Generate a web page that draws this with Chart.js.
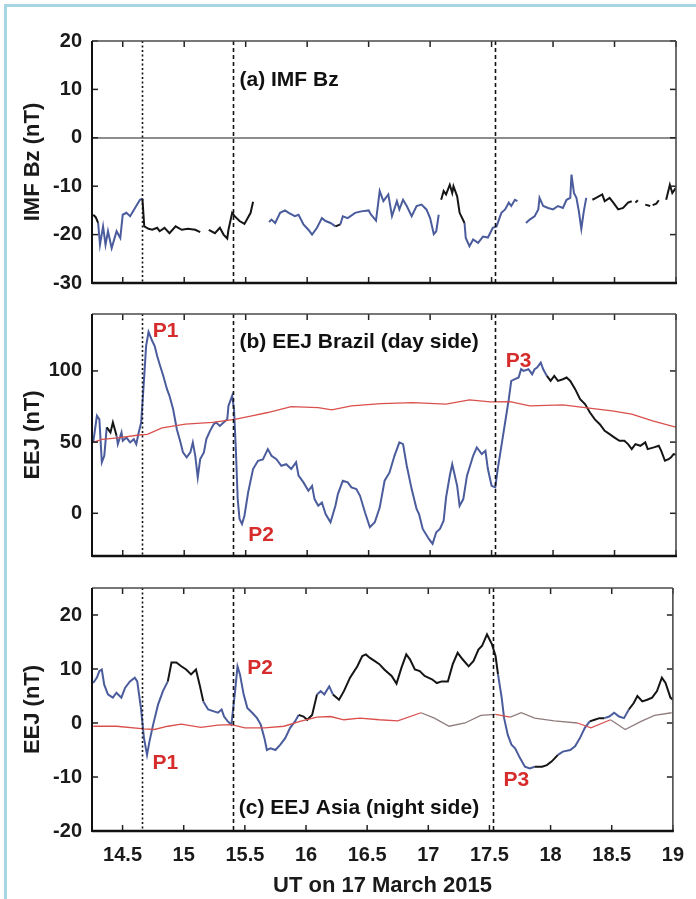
<!DOCTYPE html>
<html>
<head>
<meta charset="utf-8">
<script src="https://cdn.jsdelivr.net/npm/chart.js@4.4.1/dist/chart.umd.min.js"></script>
<style>
  html, body { margin: 0; padding: 0; background: #fff; }
  #page { position: relative; width: 696px; height: 899px; overflow: hidden; background: #fff; }
  #edge { position: absolute; left: 4px; top: 4px; right: -10px; bottom: -10px;
          border-top: 3px solid #a8d5e4; border-left: 3px solid #a8d5e4; }
  canvas { position: absolute; left: 0; top: 0; }
</style>
</head>
<body>
<div id="page">
  <div id="edge"></div>
  <canvas id="bz" width="696" height="899"></canvas>
  <canvas id="brazil" width="696" height="899"></canvas>
  <canvas id="asia" width="696" height="899"></canvas>
</div>
<script>
// ---- data (UT hours on 17 March 2015) ----
const xTicks = [14.5, 15, 15.5, 16, 16.5, 17, 17.5, 18, 18.5, 19];
const bzTicks = [-30, -20, -10, 0, 10, 20];
const brTicks = [0, 50, 100];
const asTicks = [-20, -10, 0, 10, 20];
const eventTimes = [14.66, 15.40, 17.53];

// (a) IMF Bz, null = data gap
const bzTime = [14.26, 14.28, 14.30, 14.315, 14.34, 14.36, 14.38, 14.41, 14.45, 14.48, 14.50, 14.53, 14.56, 14.60, 14.64, 14.66,
  14.675, 14.71, 14.74, 14.78, 14.80, 14.84, 14.88, 14.93, 14.98, 15.03, 15.09, 15.13, 15.165,
  15.20, 15.25, 15.29, 15.32, 15.35, 15.36, 15.39, 15.41, 15.45, 15.49, 15.54, 15.56, 15.62,
  15.69, 15.71, 15.74, 15.78, 15.82, 15.85, 15.90, 15.93, 15.97, 16.01, 16.04, 16.08, 16.12, 16.15, 16.19, 16.23, 16.27,
  16.29, 16.33, 16.39, 16.44, 16.50, 16.52, 16.56, 16.59, 16.62, 16.66, 16.69, 16.73, 16.75, 16.78, 16.81, 16.85, 16.89,
  16.93, 16.97, 17.00, 17.03, 17.05, 17.07, 17.08,
  17.09, 17.11, 17.13, 17.16, 17.18, 17.19, 17.22, 17.24, 17.28, 17.29, 17.32, 17.35, 17.39, 17.43, 17.47, 17.51, 17.54,
  17.58, 17.61, 17.64, 17.66, 17.69, 17.71, 17.745,
  17.78, 17.81, 17.85, 17.88, 17.89, 17.92, 17.96, 18.00, 18.04, 18.08, 18.11, 18.14, 18.15, 18.17, 18.19, 18.21, 18.23,
  18.25, 18.27, 18.295,
  18.32, 18.35, 18.40, 18.42, 18.46, 18.49, 18.53, 18.57, 18.61, 18.64, 18.655, 18.67, 18.69, 18.72, 18.75, 18.79, 18.80,
  18.81, 18.84, 18.86, 18.89, 18.92, 18.95, 18.97, 19.00];
const bzValue = [-15.9, -16.4, -17.6, -22.1, -18.3, -22.1, -19.3, -22.8, -19.3, -20.7, -15.9, -15.5, -16.2, -14.5, -12.8, -12.6,
  -18.3, -18.8, -19.0, -18.6, -19.3, -18.6, -19.7, -18.3, -19.0, -18.8, -19.0, -19.5, null,
  -19.0, -19.7, -18.6, -20.0, -20.8, -19.0, -15.5, -16.2, -17.2, -17.8, -15.5, -13.2, null,
  -17.4, -16.9, -17.6, -15.5, -15.0, -15.5, -16.2, -15.9, -17.9, -19.0, -20.0, -18.6, -16.6, -17.2, -17.6, -18.3, -17.9,
  -16.2, -16.6, -15.5, -15.2, -15.0, -15.9, -17.1, -11.0, -13.1, -11.7, -16.2, -13.1, -14.8, -12.8, -14.1, -16.2, -14.1,
  -13.8, -14.8, -16.6, -19.9, -19.3, -15.9, null,
  -12.8, -11.0, -11.7, -9.7, -11.4, -10.0, -12.1, -15.5, -17.6, -20.7, -22.4, -21.0, -21.7, -20.4, -20.6, -18.6, -18.3,
  -15.5, -14.8, -13.4, -14.1, -12.8, -13.1, null,
  -17.6, -16.9, -16.2, -14.8, -12.4, -14.1, -14.5, -14.8, -14.1, -14.5, -12.8, -12.4, -7.6, -11.4, -12.4, -15.2, -18.8,
  -15.2, -12.4, null,
  -12.8, -12.4, -11.7, -13.1, -12.4, -13.4, -14.8, -14.5, -13.4, -13.1, null, -13.4, -12.9, null, -13.8, -14.1, null,
  -13.9, -13.6, -12.9, null, -12.8, -9.7, -11.4, -10.3];

// (b) EEJ Brazil, day side
const brTime = [14.26, 14.29, 14.31, 14.33, 14.35, 14.37, 14.40, 14.42, 14.45, 14.46, 14.49, 14.50, 14.53, 14.56, 14.59, 14.61,
  14.63, 14.65, 14.675, 14.69, 14.71, 14.74, 14.76, 14.78, 14.80, 14.83, 14.86, 14.88, 14.91, 14.94, 14.97, 14.99, 15.02,
  15.05, 15.07, 15.09, 15.11, 15.13, 15.16, 15.18, 15.21, 15.24, 15.26, 15.29, 15.32, 15.35, 15.36, 15.39, 15.405, 15.42,
  15.435, 15.45, 15.47, 15.49, 15.52, 15.56, 15.60, 15.64, 15.68, 15.71, 15.75, 15.79, 15.83, 15.87, 15.91, 15.93, 15.97,
  16.01, 16.04, 16.06, 16.09, 16.12, 16.15, 16.19, 16.23, 16.25, 16.29, 16.33, 16.36, 16.40, 16.43, 16.47, 16.51, 16.55,
  16.59, 16.63, 16.67, 16.71, 16.75, 16.78, 16.81, 16.85, 16.89, 16.91, 16.94, 16.99, 17.02, 17.05, 17.08, 17.11, 17.13,
  17.16, 17.18, 17.22, 17.24, 17.27, 17.30, 17.35, 17.38, 17.42, 17.45, 17.47, 17.50, 17.53, 17.55, 17.58, 17.61, 17.64,
  17.66, 17.69, 17.72, 17.74, 17.76, 17.80, 17.83, 17.85, 17.87, 17.90, 17.92, 17.95, 17.98, 18.01, 18.04, 18.08, 18.11,
  18.14, 18.18, 18.22, 18.26, 18.30, 18.34, 18.38, 18.42, 18.46, 18.50, 18.54, 18.58, 18.61, 18.64, 18.67, 18.71, 18.75,
  18.77, 18.82, 18.86, 18.88, 18.91, 18.94, 18.96, 18.98, 19.00];
const brValue = [49.8, 68.5, 66, 35.8, 40.4, 60.3, 56.8, 63.8, 54.4, 48.6, 56.8, 50.9, 53.2, 49.8, 52.1, 48.6,
  56.8, 63.8, 96.5, 117.5, 127.5, 121, 117.5, 110.5, 104.7, 96.5, 87.2, 82.5, 73.1, 59.1, 49.8, 42.8, 39.3,
  42.8, 49.8, 40.4, 25.2, 38.1, 42.8, 52.1, 57.9, 62.6, 63.8, 61.4, 63.8, 66, 75.5, 82.5, 73.1, 45.1,
  10, -4, -7.5, -1.7, 14.7, 31.1, 36.9, 37.8, 45.1, 40.4, 38, 33.4, 34.5, 31.1, 35.8, 26.4, 21.7,
  15.8, 19.3, 10, 5.3, 7.6, -0.5, -6.3, 5.3, 13.5, 22.9, 21.7, 18.2, 17, 12.3, 0.7, -9.8, -6.3,
  4, 22.9, 28.7, 40.4, 49.8, 48.6, 33.4, 17, 3, -0.5, -11, -18, -21.5, -13.3, -11, -5.2, 11.2,
  26.4, 34.5, 19.3, 5.3, 10, 26.4, 40.4, 46.3, 41.6, 43.9, 31.1, 19.3, 18.2, 31.1, 47.4, 63.8, 80.2,
  93, 94.2, 95.4, 101.2, 100, 101.2, 97.7, 101.2, 102.4, 105.9, 101.2, 96.5, 93, 96.5, 93, 94.2, 95.4,
  93, 87.2, 80.2, 76.7, 70.8, 66, 62.6, 57.9, 55.6, 53.2, 50.9, 50.9, 48.6, 45.1, 48.6, 47.4, 49.8,
  45.1, 46.3, 47.4, 43.9, 36.9, 38, 39.3, 41.6, 41];
const brQuietTime = [14.26, 14.33, 14.46, 14.63, 14.70, 14.82, 15.01, 15.23, 15.41, 15.55, 15.68, 15.87, 16.09, 16.20,
  16.36, 16.60, 16.86, 17.13, 17.32, 17.49, 17.65, 17.81, 18.08, 18.26, 18.48, 18.64, 18.81, 18.96, 19.00];
const brQuietValue = [49.8, 52, 53, 55, 55.5, 60, 62.6, 63.8, 66, 68.5, 70.8, 75, 74.3, 72.7,
  75.5, 77, 77.8, 76.7, 79.7, 78.3, 78.5, 75.5, 76.2, 74.3, 72, 69.6, 65, 61.4, 60.5];

// (c) EEJ Asia, night side
const asTime = [14.26, 14.29, 14.31, 14.33, 14.35, 14.38, 14.42, 14.45, 14.49, 14.52, 14.56, 14.60, 14.62, 14.65, 14.675,
  14.70, 14.72, 14.75, 14.79, 14.83, 14.87, 14.90, 14.94, 14.98, 15.02, 15.06, 15.10, 15.13, 15.16, 15.20, 15.24, 15.28,
  15.31, 15.33, 15.36, 15.39, 15.42, 15.44, 15.46, 15.49, 15.52, 15.56, 15.60, 15.63, 15.66, 15.68, 15.71, 15.75, 15.79,
  15.83, 15.87, 15.91, 15.94, 15.98, 16.01, 16.05, 16.09, 16.12, 16.15, 16.19, 16.22, 16.27, 16.31, 16.36, 16.42, 16.46,
  16.49, 16.52, 16.56, 16.60, 16.64, 16.70, 16.74, 16.78, 16.82, 16.85, 16.89, 16.93, 16.97, 17.03, 17.07, 17.11, 17.16,
  17.20, 17.24, 17.28, 17.33, 17.37, 17.41, 17.44, 17.48, 17.52, 17.55, 17.57, 17.60, 17.62, 17.65, 17.68, 17.71, 17.75,
  17.79, 17.83, 17.87, 17.93, 17.97, 18.01, 18.06, 18.10, 18.16, 18.20, 18.24, 18.28, 18.32, 18.36, 18.40, 18.44, 18.48,
  18.52, 18.56, 18.60, 18.64, 18.68, 18.71, 18.75, 18.79, 18.83, 18.87, 18.91, 18.94, 18.98, 19.00];
const asValue = [7.4, 8.4, 9.6, 9.9, 7.1, 5.3, 4.7, 5.6, 4.7, 6.5, 7.7, 8.4, 7.7, 2.8, -2.8,
  -5.9, -3.4, -0.3, 3.4, 5.9, 7.7, 11.2, 11.2, 10.5, 9.9, 9.0, 9.9, 7.1, 4.0, 2.5, 2.2, 1.9,
  2.5, 1.2, 0.3, -0.3, 5.9, 10.5, 9.0, 5.3, 2.8, 1.9, 0.9, -0.3, -2.8, -5.0, -4.7, -5.0, -4.0,
  -2.8, -0.9, 0.3, 1.5, 1.2, 0.6, 1.5, 5.3, 5.9, 5.3, 6.8, 5.3, 4.3, 5.9, 8.4, 10.5, 12.4,
  12.7, 12.1, 11.5, 10.9, 9.9, 8.7, 7.3, 10.2, 12.7, 11.8, 9.9, 9.6, 8.7, 8.1, 7.4, 7.7, 7.7,
  10.9, 13.0, 11.8, 10.5, 11.5, 13.6, 14.3, 16.4, 14.6, 12.4, 9.0, 4.7, 0.9, -2.2, -4.0, -4.7, -6.5,
  -8.1, -8.4, -8.1, -8.1, -7.8, -7.1, -5.9, -5.3, -5.0, -4.3, -2.8, -0.9, 0.3, 0.6, 0.9, 0.9, 1.2,
  1.9, 1.2, 0.9, 2.5, 3.7, 5.0, 4.0, 4.3, 4.7, 5.9, 8.4, 7.4, 4.7, 4.3];
const asQuietTime = [14.26, 14.45, 14.675, 14.76, 14.87, 14.98, 15.14, 15.28, 15.39, 15.50, 15.66, 15.82, 15.95, 16.09,
  16.20, 16.31, 16.44, 16.60, 16.75, 16.94, 17.05, 17.17, 17.30, 17.43, 17.55, 17.67, 17.76, 17.87, 18.03, 18.22,
  18.33, 18.49, 18.61, 18.74, 18.85, 18.99];
const asQuietValue = [-0.6, -0.6, -1.1, -1.2, -0.6, -0.2, -0.8, -0.4, -0.3, -0.9, -0.9, -0.6, 0.3, 1.1,
  1.2, 0.6, 0.9, 0.6, 0.4, 1.9, 0.9, -0.6, 0, 1.4, 1.6, 1.1, 1.9, 0.9, 0.4, 0,
  -0.9, 0.6, -1.2, 0.3, 1.4, 1.9];

// ---- styling ----
const FONT = "'Liberation Sans', Arial, sans-serif";
const BLUE = '#4b5c9d';
const BLACK = '#151515';
const RED = '#d9504d';
const GREYRED = '#8f7d7d';
const LABEL_RED = '#d62c2c';

const toPoints = (xs, ys) => xs.map((x, i) => ({ x: x, y: ys[i] }));
const inRanges = (x, ranges) => ranges.some(r => x >= r[0] && x < r[1]);

const framePlugin = {
  id: 'frame',
  afterDatasetsDraw(chart, args, opts) {
    const { ctx, chartArea: a } = chart;
    const xs = chart.scales.x, ys = chart.scales.y;
    const line = (x1, y1, x2, y2) => { ctx.beginPath(); ctx.moveTo(x1, y1); ctx.lineTo(x2, y2); ctx.stroke(); };
    ctx.save();

    // event markers
    ctx.strokeStyle = '#111';
    ctx.lineWidth = 1.6;
    eventTimes.forEach((t, i) => {
      const px = Math.round(xs.getPixelForValue(t)) + 0.5;
      ctx.setLineDash(i === 0 ? [2, 2.5] : [4, 3]);
      line(px, a.top, px, a.bottom);
    });
    ctx.setLineDash([]);

    // inward tick marks
    ctx.strokeStyle = '#222';
    ctx.lineWidth = 1.5;
    xTicks.forEach(v => {
      const px = xs.getPixelForValue(v);
      line(px, a.top, px, a.top + 6);
      line(px, a.bottom, px, a.bottom - 6);
    });
    opts.yTicks.forEach(v => {
      const py = ys.getPixelForValue(v);
      line(a.left, py, a.left + 6, py);
      line(a.right, py, a.right - 6, py);
    });

    // box
    ctx.strokeStyle = '#4a4a4a';
    ctx.lineWidth = 1.3;
    line(a.left, a.top, a.right, a.top);
    ctx.lineWidth = 1.6;
    line(a.right, a.top, a.right, a.bottom);
    ctx.strokeStyle = '#111';
    ctx.lineWidth = 2;
    line(a.left, a.top, a.left, a.bottom + 1);
    ctx.lineWidth = 2.5;
    line(a.left, a.bottom, a.right + 1, a.bottom);

    // panel text
    ctx.font = 'bold 21px ' + FONT;
    ctx.textAlign = 'left';
    ctx.textBaseline = 'middle';
    opts.labels.forEach(l => {
      ctx.fillStyle = l.color;
      ctx.fillText(l.text, xs.getPixelForValue(l.x), ys.getPixelForValue(l.y));
    });
    ctx.restore();
  }
};

function makePanel(id, o) {
  const datasets = o.series.map(s => ({
    data: toPoints(s.t, s.v),
    borderColor: s.base,
    borderWidth: s.width,
    pointRadius: 0,
    tension: 0,
    spanGaps: false,
    segment: { borderColor: c => inRanges(c.p0.parsed.x, s.ranges) ? s.alt : s.base }
  }));
  new Chart(document.getElementById(id), {
    type: 'line',
    data: { datasets: datasets },
    options: {
      responsive: false,
      animation: false,
      devicePixelRatio: 1,
      layout: { padding: { left: 0, right: 20, top: o.top, bottom: o.bottom } },
      plugins: {
        legend: { display: false },
        tooltip: { enabled: false },
        frame: { yTicks: o.yTicks, labels: o.labels }
      },
      scales: {
        x: {
          type: 'linear',
          min: 14.25,
          max: 19,
          display: o.showX,
          afterBuildTicks: s => { s.ticks = xTicks.map(v => ({ value: v })); },
          afterFit: s => { s.height = o.showX ? 68 : 0; },
          grid: { display: false, drawTicks: false },
          border: { display: false },
          ticks: { padding: 12, color: '#1a1a1a', font: { family: FONT, size: 20, weight: 'bold' }, callback: v => String(v) },
          title: { display: true, text: 'UT on 17 March 2015', color: '#1a1a1a', padding: { top: 0, bottom: 0 },
                   font: { family: FONT, size: 22, weight: 'bold' } }
        },
        y: {
          min: o.yMin,
          max: o.yMax,
          afterBuildTicks: s => { s.ticks = o.yTicks.map(v => ({ value: v })); },
          afterFit: s => { s.width = 92; },
          grid: {
            display: o.zeroLine,
            drawTicks: false,
            lineWidth: 2,
            color: c => (c.tick && c.tick.value === 0) ? '#8d8d8d' : 'rgba(0,0,0,0)'
          },
          border: { display: false },
          ticks: { padding: 10, color: '#1a1a1a', font: { family: FONT, size: 20, weight: 'bold' }, callback: v => String(v) },
          title: { display: true, text: o.yTitle, color: '#1a1a1a', padding: { top: 20, bottom: 0 },
                   font: { family: FONT, size: 22, weight: 'bold' } }
        }
      }
    },
    plugins: [framePlugin]
  });
}

makePanel('bz', {
  top: 41, bottom: 616, showX: false, zeroLine: true,
  yMin: -30, yMax: 20, yTicks: bzTicks, yTitle: 'IMF Bz (nT)',
  series: [
    { t: bzTime, v: bzValue, width: 2, base: BLUE, alt: BLACK,
      ranges: [[14.26, 14.29], [14.66, 15.6], [16.2, 16.25], [17.08, 17.26], [18.3, 19.1]] }
  ],
  labels: [{ text: '(a) IMF Bz', x: 15.45, y: 12, color: '#111' }]
});

makePanel('brazil', {
  top: 314, bottom: 343, showX: false, zeroLine: false,
  yMin: -30, yMax: 140, yTicks: brTicks, yTitle: 'EEJ (nT)',
  series: [
    { t: brQuietTime, v: brQuietValue, width: 1.3, base: RED, alt: RED, ranges: [] },
    { t: brTime, v: brValue, width: 2, base: BLUE, alt: BLACK, ranges: [[14.36, 14.45], [17.93, 19.1]] }
  ],
  labels: [
    { text: 'P1', x: 14.745, y: 128, color: LABEL_RED },
    { text: '(b) EEJ Brazil (day side)', x: 15.45, y: 120, color: '#111' },
    { text: 'P2', x: 15.52, y: -15.7, color: LABEL_RED },
    { text: 'P3', x: 17.615, y: 107, color: LABEL_RED }
  ]
});

makePanel('asia', {
  top: 588, bottom: 0, showX: true, zeroLine: false,
  yMin: -20, yMax: 25, yTicks: asTicks, yTitle: 'EEJ (nT)',
  series: [
    { t: asQuietTime, v: asQuietValue, width: 1.3, base: RED, alt: GREYRED,
      ranges: [[16.85, 17.5], [17.6, 18.2], [18.4, 19.1]] },
    { t: asTime, v: asValue, width: 2, base: BLUE, alt: BLACK,
      ranges: [[14.86, 15.15], [15.93, 16.06], [16.2, 17.56], [17.85, 18.05], [18.3, 18.42], [18.62, 19.1]] }
  ],
  labels: [
    { text: 'P1', x: 14.745, y: -7.4, color: LABEL_RED },
    { text: 'P2', x: 15.52, y: 10.2, color: LABEL_RED },
    { text: 'P3', x: 17.615, y: -10.6, color: LABEL_RED },
    { text: '(c) EEJ Asia (night side)', x: 15.45, y: -15.8, color: '#111' }
  ]
});
</script>
</body>
</html>
